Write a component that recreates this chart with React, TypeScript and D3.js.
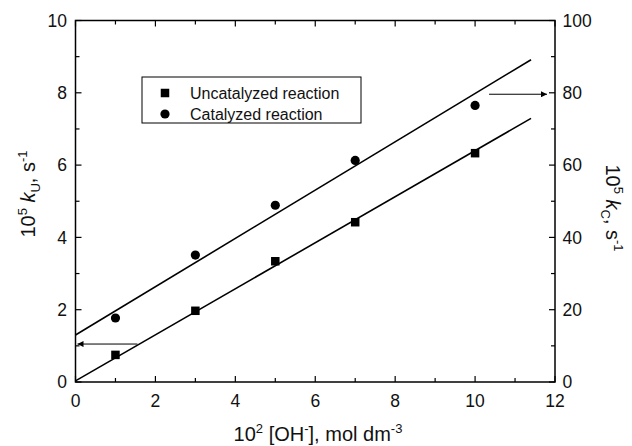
import React from "react";
import * as d3 from "d3";

const ohConc = [1, 3, 5, 7, 10];
const kUncat = [0.75, 1.97, 3.34, 4.42, 6.33];
const kCat = [17.7, 35.1, 48.9, 61.3, 76.5];
// fitted lines: [intercept, slope], drawn from x=0 to lineEnd
const fitUncat = [0.03, 0.637];
const fitCat = [13.0, 6.68];
const lineEnd = 11.4;
const xTicks = [0, 2, 4, 6, 8, 10, 12];
const xMinor = [1, 3, 5, 7, 9, 11];
const yLeftTicks = [0, 2, 4, 6, 8, 10];
const yLeftMinor = [1, 3, 5, 7, 9];
const yRightTicks = [0, 20, 40, 60, 80, 100];
const yRightMinor = [10, 30, 50, 70, 90];
const legendLabels = ["Uncatalyzed reaction", "Catalyzed reaction"];
// arrows: [xStart, xEnd, yValue]
const arrowLeft = [1.55, 0.05, 1.05];
const arrowRight = [10.35, 11.8, 79.6];

const W = 632, H = 446;
const L = 75.5, R = 555, T = 20.5, B = 382;
const FONT = "'Liberation Sans', Arial, Helvetica, sans-serif";

export default function App() {
  const x = d3.scaleLinear().domain([0, 12]).range([L, R]);
  const yL = d3.scaleLinear().domain([0, 10]).range([B, T]);
  const yR = d3.scaleLinear().domain([0, 100]).range([B, T]);
  const lineGen = (fit: number[], y: d3.ScaleLinear<number, number>) =>
    d3.line<number>().x((d) => x(d)).y((d) => y(fit[0] + fit[1] * d))([0, lineEnd]) || "";
  const maj = 6, mnr = 4;
  const sq = 8.5, cr = 4.6;
  const tf = 17.5;
  const af = 20, sf = 13;
  return (
    <svg width={W} height={H} style={{ position: "absolute", left: 0, top: 0, display: "block", background: "#fff" }} fontFamily={FONT}>
      <defs>
        <marker id="ah" viewBox="0 0 10 10" refX="10" refY="5" markerWidth="10" markerHeight="6" markerUnits="userSpaceOnUse" orient="auto">
          <path d="M0,0 L10,5 L0,10 Z" fill="#000" />
        </marker>
      </defs>
      {/* frame */}
      <rect x={L} y={T} width={R - L} height={B - T} fill="none" stroke="#000" strokeWidth={1.5} />
      {/* x ticks bottom & top */}
      {xTicks.map((t) => (
        <g key={"xt" + t}>
          <line x1={x(t)} x2={x(t)} y1={B} y2={B - maj} stroke="#000" strokeWidth={1.2} />
          <line x1={x(t)} x2={x(t)} y1={T} y2={T + maj} stroke="#000" strokeWidth={1.2} />
          <text x={x(t)} y={B + 24.5} textAnchor="middle" fontSize={tf} fill="#111">{t}</text>
        </g>
      ))}
      {xMinor.map((t) => (
        <g key={"xm" + t}>
          <line x1={x(t)} x2={x(t)} y1={B} y2={B - mnr} stroke="#000" strokeWidth={1.2} />
          <line x1={x(t)} x2={x(t)} y1={T} y2={T + mnr} stroke="#000" strokeWidth={1.2} />
        </g>
      ))}
      {/* left ticks */}
      {yLeftTicks.map((t) => (
        <g key={"yl" + t}>
          <line x1={L} x2={L + maj} y1={yL(t)} y2={yL(t)} stroke="#000" strokeWidth={1.2} />
          <text x={L - 8.5} y={yL(t) + 6.3} textAnchor="end" fontSize={tf} fill="#111">{t}</text>
        </g>
      ))}
      {yLeftMinor.map((t) => (
        <line key={"ylm" + t} x1={L} x2={L + mnr} y1={yL(t)} y2={yL(t)} stroke="#000" strokeWidth={1.2} />
      ))}
      {/* right ticks */}
      {yRightTicks.map((t) => (
        <g key={"yr" + t}>
          <line x1={R} x2={R - maj} y1={yR(t)} y2={yR(t)} stroke="#000" strokeWidth={1.2} />
          <text x={R + 7.5} y={yR(t) + 6.3} textAnchor="start" fontSize={tf} fill="#111">{t}</text>
        </g>
      ))}
      {yRightMinor.map((t) => (
        <line key={"yrm" + t} x1={R} x2={R - mnr} y1={yR(t)} y2={yR(t)} stroke="#000" strokeWidth={1.2} />
      ))}
      {/* fit lines */}
      <path d={lineGen(fitUncat, yL)} fill="none" stroke="#000" strokeWidth={1.6} />
      <path d={lineGen(fitCat, yR)} fill="none" stroke="#000" strokeWidth={1.6} />
      {/* points */}
      {ohConc.map((c, i) => (
        <rect key={"s" + i} x={x(c) - sq / 2} y={yL(kUncat[i]) - sq / 2} width={sq} height={sq} fill="#000" />
      ))}
      {ohConc.map((c, i) => (
        <circle key={"c" + i} cx={x(c)} cy={yR(kCat[i])} r={cr} fill="#000" />
      ))}
      {/* arrows */}
      <line x1={x(arrowLeft[0])} x2={x(arrowLeft[1])} y1={yL(arrowLeft[2])} y2={yL(arrowLeft[2])} stroke="#000" strokeWidth={1} markerEnd="url(#ah)" />
      <line x1={x(arrowRight[0])} x2={x(arrowRight[1])} y1={yR(arrowRight[2])} y2={yR(arrowRight[2])} stroke="#000" strokeWidth={1} markerEnd="url(#ah)" />
      {/* legend */}
      <rect x={142} y={77} width={219} height={46} fill="#fff" stroke="#000" strokeWidth={1} />
      <rect x={165 - sq / 2} y={93 - sq / 2} width={sq} height={sq} fill="#000" />
      <circle cx={165} cy={114} r={cr} fill="#000" />
      <text x={190} y={98.5} fontSize={16} fill="#111">{legendLabels[0]}</text>
      <text x={190} y={119.5} fontSize={16} fill="#111">{legendLabels[1]}</text>
      {/* x title */}
      <text x={318} y={441} textAnchor="middle" fontSize={af} fill="#111">
        10<tspan dy={-8} fontSize={sf}>2</tspan><tspan dy={8}> [OH</tspan><tspan dy={-8} fontSize={sf}>-</tspan><tspan dy={8}>], mol dm</tspan><tspan dy={-8} fontSize={sf}>-3</tspan>
      </text>
      {/* left title */}
      <text transform="translate(35,194) rotate(-90)" textAnchor="middle" fontSize={af} fill="#111">
        10<tspan dy={-8} fontSize={sf}>5</tspan><tspan dy={8}> </tspan><tspan fontStyle="italic">k</tspan><tspan dy={5} fontSize={sf}>U</tspan><tspan dy={-5}>, s</tspan><tspan dy={-8} fontSize={sf}>-1</tspan>
      </text>
      {/* right title */}
      <text transform="translate(606,208) rotate(90)" textAnchor="middle" fontSize={af} fill="#111">
        10<tspan dy={-8} fontSize={sf}>5</tspan><tspan dy={8}> </tspan><tspan fontStyle="italic">k</tspan><tspan dy={5} fontSize={sf}>C</tspan><tspan dy={-5}>, s</tspan><tspan dy={-8} fontSize={sf}>-1</tspan>
      </text>
    </svg>
  );
}
